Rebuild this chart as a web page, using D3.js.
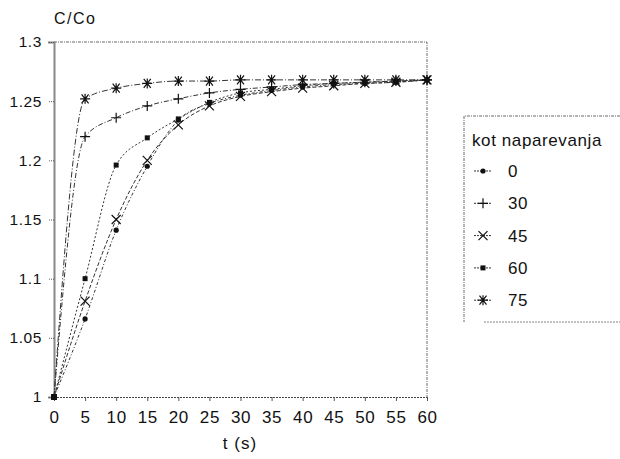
<!DOCTYPE html>
<html>
<head>
<meta charset="utf-8">
<script src="https://cdn.jsdelivr.net/npm/d3@7"></script>
<style>
  body { margin: 0; background: #fff; }
  svg { font-family: "Liberation Sans", Arial, sans-serif; }
  .tick text { fill: #111; }
</style>
</head>
<body>
<div id="vis"></div>
<script>
const WIDTH = 620, HEIGHT = 459;
const PLOT = {left: 54, right: 427, top: 42, bottom: 397};

// data
const times = [0, 5, 10, 15, 20, 25, 30, 35, 40, 45, 50, 55, 60];
const angles = ["0", "30", "45", "60", "75"];
const s0  = [1, 1.066, 1.141, 1.195, 1.234, 1.248, 1.255, 1.259, 1.262, 1.264, 1.265, 1.266, 1.268];
const s30 = [1, 1.220, 1.236, 1.246, 1.252, 1.257, 1.260, 1.262, 1.264, 1.265, 1.266, 1.267, 1.268];
const s45 = [1, 1.081, 1.150, 1.200, 1.230, 1.246, 1.254, 1.258, 1.261, 1.263, 1.265, 1.266, 1.268];
const s60 = [1, 1.100, 1.196, 1.219, 1.235, 1.249, 1.257, 1.260, 1.263, 1.265, 1.266, 1.267, 1.268];
const s75 = [1, 1.252, 1.261, 1.265, 1.267, 1.267, 1.268, 1.268, 1.268, 1.268, 1.268, 1.268, 1.268];
const allSeries = [s0, s30, s45, s60, s75];
const yTicks = [1, 1.05, 1.1, 1.15, 1.2, 1.25, 1.3];

// styling per series
const markers = ["dot", "plus", "cross", "square", "star"];
const dashes = ["3,2,1,2", "5,2,1,2", "4,2", "2,2", "6,2,1,2"];

const svg = d3.select("#vis").append("svg")
  .attr("width", WIDTH).attr("height", HEIGHT);

const X_SCALE = d3.scaleLinear().domain([0, 60]).range([PLOT.left, PLOT.right]);
const Y_SCALE = d3.scaleLinear().domain([1, 1.3]).range([PLOT.bottom, PLOT.top]);

// frame: top and right dotted borders
svg.append("path")
  .attr("d", `M${PLOT.left},${PLOT.top}H${PLOT.right}V${PLOT.bottom}`)
  .attr("fill", "none").attr("stroke", "#444")
  .attr("stroke-width", 0.8).attr("stroke-dasharray", "3,1,1,1");

// y axis
const yAxis = svg.append("g")
  .attr("transform", `translate(${PLOT.left},0)`)
  .call(d3.axisLeft(Y_SCALE).tickValues(yTicks).tickSize(6).tickPadding(6)
    .tickFormat(d => d3.format("")(+d.toFixed(2))));
yAxis.select(".domain").attr("stroke", "#888").attr("stroke-width", 2);
yAxis.selectAll(".tick line").attr("stroke", "#555").attr("stroke-dasharray", "1,1");
yAxis.selectAll(".tick text").attr("font-size", 15.5).attr("letter-spacing", 0.6);

// x axis
const xAxis = svg.append("g")
  .attr("transform", `translate(0,${PLOT.bottom})`)
  .call(d3.axisBottom(X_SCALE).tickValues(times).tickSize(4).tickPadding(10));
xAxis.select(".domain").attr("stroke", "#444").attr("stroke-dasharray", "2,1");
xAxis.selectAll(".tick line").attr("stroke", "#555");
xAxis.selectAll(".tick text").attr("font-size", 17).attr("letter-spacing", 0.6);

// axis titles
svg.append("text").attr("x", 54).attr("y", 24)
  .attr("font-size", 16).attr("letter-spacing", 1.5).attr("fill", "#111").text("C/Co");
svg.append("text").attr("x", 240).attr("y", 449).attr("text-anchor", "middle")
  .attr("font-size", 17).attr("letter-spacing", 1).attr("fill", "#111").text("t (s)");

// marker drawing
function marker(g, type, x, y) {
  const m = g.append("g").attr("transform", `translate(${x},${y})`);
  const line = d => m.append("path").attr("d", d)
    .attr("stroke", "#111").attr("stroke-width", 1.2).attr("fill", "none");
  if (type === "dot") m.append("circle").attr("r", 2.6).attr("fill", "#111");
  if (type === "square") m.append("rect").attr("x", -2.5).attr("y", -2.5)
    .attr("width", 5).attr("height", 5).attr("fill", "#111");
  if (type === "plus") line("M-5,0H5M0,-5V5");
  if (type === "cross") line("M-4.5,-4.5L4.5,4.5M-4.5,4.5L4.5,-4.5");
  if (type === "star") line("M-5,0H5M-3.5,-4.5L3.5,4.5M-3.5,4.5L3.5,-4.5M0,-5V5");
}

const lineGen = d3.line()
  .x((d, i) => X_SCALE(times[i]))
  .y(d => Y_SCALE(d))
  .curve(d3.curveMonotoneX);

allSeries.forEach((s, k) => {
  svg.append("path")
    .attr("d", lineGen(s))
    .attr("fill", "none").attr("stroke", "#333")
    .attr("stroke-width", 1).attr("stroke-dasharray", dashes[k]);
});
allSeries.forEach((s, k) => {
  const g = svg.append("g");
  s.forEach((v, i) => {
    if (i === 0) return;
    marker(g, markers[k], X_SCALE(times[i]), Y_SCALE(v));
  });
});
// start point
svg.append("rect").attr("x", X_SCALE(0) - 3).attr("y", Y_SCALE(1) - 3)
  .attr("width", 6).attr("height", 6).attr("fill", "#111");

// legend
const LEG = {x: 464, y: 116, bottom: 322};
svg.append("path")
  .attr("d", `M${WIDTH},${LEG.y}H${LEG.x}V${LEG.bottom}`)
  .attr("fill", "none").attr("stroke", "#444")
  .attr("stroke-width", 0.8).attr("stroke-dasharray", "3,1,1,1");
svg.append("path")
  .attr("d", `M${LEG.x + 20},${LEG.bottom}H${WIDTH}`)
  .attr("fill", "none").attr("stroke", "#666")
  .attr("stroke-width", 0.8).attr("stroke-dasharray", "2,1");
svg.append("text").attr("x", 472).attr("y", 146)
  .attr("font-size", 17).attr("letter-spacing", 0.6).attr("fill", "#111").text("kot naparevanja");

angles.forEach((a, k) => {
  const y = 171 + k * 32.3;
  svg.append("path").attr("d", `M474,${y}H492`)
    .attr("stroke", "#333").attr("stroke-width", 1).attr("stroke-dasharray", "2,1");
  marker(svg, markers[k], 483, y);
  svg.append("text").attr("x", 508).attr("y", y + 6)
    .attr("font-size", 17).attr("letter-spacing", 0.6).attr("fill", "#111").text(a);
});
</script>
</body>
</html>
